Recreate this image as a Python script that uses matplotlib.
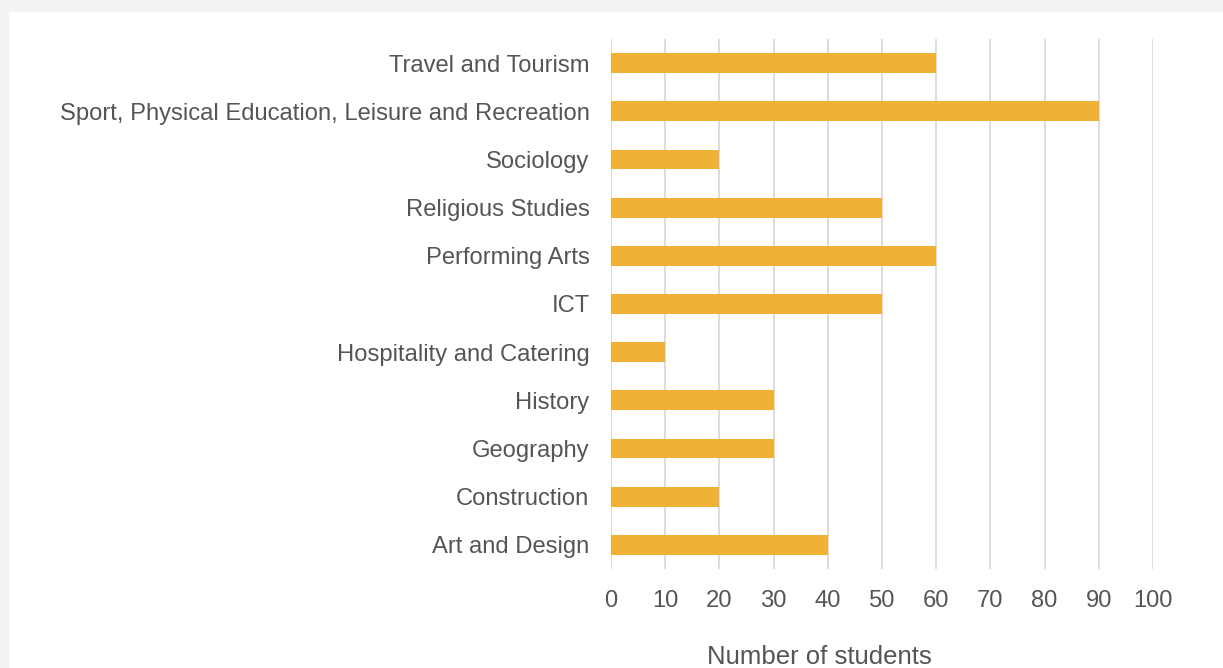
import matplotlib.pyplot as plt
from matplotlib.patches import Rectangle

subjects = ['Art and Design', 'Construction', 'Geography', 'History',
            'Hospitality and Catering', 'ICT', 'Performing Arts',
            'Religious Studies', 'Sociology',
            'Sport, Physical Education, Leisure and Recreation',
            'Travel and Tourism']
students = [40, 20, 30, 30, 10, 50, 60, 50, 20, 90, 60]
xticks = list(range(0, 101, 10))

plt.rcParams['font.family'] = ['Liberation Sans', 'DejaVu Sans']

fig = plt.figure(figsize=(12.23, 6.68), dpi=100, facecolor='#f3f3f3')
# white card behind the chart
fig.patches.append(Rectangle((9 / 1223, 0), 1, 1 - 12 / 668, transform=fig.transFigure,
                             facecolor='white', edgecolor='none', zorder=-10))

ax = fig.add_axes([611 / 1223, 1 - 569 / 668, 542 / 1223, 530 / 668])
ax.set_facecolor('none')
ax.barh(range(len(subjects)), students, height=0.41, color='#efb236', zorder=3)

ax.set_xlim(0, 100)
ax.set_ylim(-0.5, len(subjects) - 0.5)
ax.set_xticks(xticks)
ax.set_yticks(range(len(subjects)))
ax.set_yticklabels(subjects)
ax.grid(axis='x', color='#d9d9d9', linewidth=1.3, zorder=0)
ax.grid(axis='y', visible=False)
for s in ax.spines.values():
    s.set_visible(False)
ax.tick_params(axis='both', length=0, labelsize=17.1, labelcolor='#555555')
ax.tick_params(axis='y', pad=15.5)
ax.tick_params(axis='x', pad=15)
ax.set_xlabel('Number of students', fontsize=18.5, color='#555555', labelpad=24, x=0.384)

fig.savefig('out.png', dpi=100, facecolor=fig.get_facecolor())
